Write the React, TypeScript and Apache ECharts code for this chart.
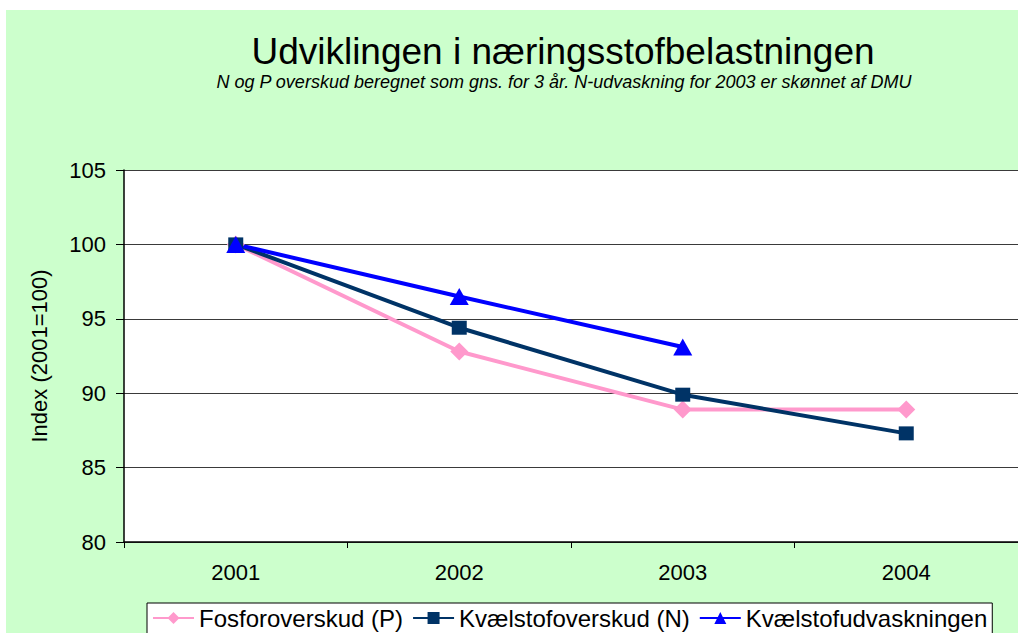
import React, { useEffect, useRef } from "react";
import * as echarts from "echarts";

const categories = ["2001", "2002", "2003", "2004"];
const fosfor = [100, 92.8, 88.9, 88.9];
const kvaelstof = [100, 94.4, 89.9, 87.3];
const udvask = [100, 96.5, 93.1, null];
const seriesNames = ["Fosforoverskud (P)", "Kvælstofoverskud (N)", "Kvælstofudvaskningen"];
const titleText = "Udviklingen i næringsstofbelastningen";
const subtitleText = "N og P overskud beregnet som gns. for 3 år. N-udvaskning for 2003 er skønnet af DMU";
const yName = "Index (2001=100)";

export default function App() {
  const ref = useRef<HTMLDivElement>(null);
  useEffect(() => {
    const chart = echarts.init(ref.current!, null, { renderer: "svg" });
    const font = "Arial, 'Liberation Sans', sans-serif";
    chart.setOption({
      animation: false,
      backgroundColor: "#CCFFCC",
      textStyle: { fontFamily: font },
      graphic: [
        { type: "rect", shape: { x: 0, y: 0, width: 1018, height: 10 }, style: { fill: "#ffffff" } },
        { type: "rect", shape: { x: 0, y: 0, width: 6, height: 633 }, style: { fill: "#ffffff" } },
      ],
      title: [
        {
          text: titleText,
          left: 558,
          top: 28,
          textAlign: "center",
          textStyle: { fontSize: 37, fontWeight: "normal", color: "#000", fontFamily: font },
        },
        {
          text: subtitleText,
          left: 559,
          top: 68,
          textAlign: "center",
          textStyle: { fontSize: 18, fontStyle: "italic", fontWeight: "normal", color: "#000", fontFamily: font },
        },
      ],
      grid: {
        left: 124,
        top: 170,
        right: -2,
        bottom: 91,
        show: true,
        backgroundColor: "#ffffff",
        borderWidth: 0,
      },
      legend: {
        left: 147,
        top: 603,
        orient: "horizontal",
        backgroundColor: "#ffffff",
        borderColor: "#000000",
        borderWidth: 1,
        borderRadius: 0,
        padding: [3, 5, 8, 5],
        itemGap: 9,
        itemWidth: 41,
        itemHeight: 15,
        textStyle: { fontSize: 24, color: "#000", fontFamily: font },
        data: seriesNames,
      },
      xAxis: {
        type: "category",
        data: categories,
        boundaryGap: true,
        axisLine: { lineStyle: { color: "#000", width: 1.5 } },
        axisTick: { show: true, length: 6, lineStyle: { color: "#000" } },
        axisLabel: { fontSize: 22, color: "#000", margin: 19, fontFamily: font },
      },
      yAxis: {
        type: "value",
        min: 80,
        max: 105,
        interval: 5,
        name: yName,
        nameLocation: "middle",
        nameGap: 74,
        nameRotate: 90,
        nameTextStyle: { fontSize: 22, color: "#000", fontFamily: font },
        axisLine: { show: true, lineStyle: { color: "#000", width: 1.5 } },
        axisTick: { show: true, length: 8, lineStyle: { color: "#000" } },
        axisLabel: { fontSize: 22, color: "#000", margin: 18, fontFamily: font },
        splitLine: { show: true, lineStyle: { color: "#3a3a3a", width: 1.2 } },
      },
      series: [
        {
          name: seriesNames[0],
          type: "line",
          data: fosfor,
          symbol: "diamond",
          symbolSize: 18,
          lineStyle: { color: "#FF99CC", width: 4 },
          itemStyle: { color: "#FF99CC" },
        },
        {
          name: seriesNames[1],
          type: "line",
          data: kvaelstof,
          symbol: "rect",
          symbolSize: [15, 14],
          lineStyle: { color: "#003366", width: 4 },
          itemStyle: { color: "#003366" },
        },
        {
          name: seriesNames[2],
          type: "line",
          data: udvask,
          symbol: "triangle",
          symbolSize: [19, 17],
          lineStyle: { color: "#0000FF", width: 4 },
          itemStyle: { color: "#0000FF" },
        },
      ],
    });
    return () => chart.dispose();
  }, []);
  return (
    <div
      ref={ref}
      style={{ position: "fixed", left: 0, top: 0, width: 1018, height: 633 }}
    />
  );
}
